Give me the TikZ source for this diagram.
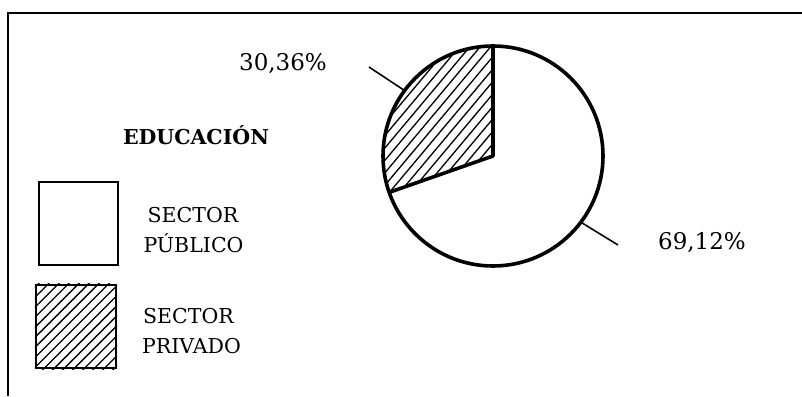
\documentclass[tikz,border=0pt]{standalone}
\usepackage{fontspec}
\setmainfont{DejaVu Serif}
\begin{document}
\tikzset{
  frame/.style={line width=2.6pt},
  pie/.style={line width=3.6pt, line join=round},
  hatch/.style={line width=1.3pt},
  leader/.style={line width=1.6pt},
  legendbox/.style={draw, line width=2.2pt, inner sep=0pt},
  lbl/.style={anchor=base, inner sep=0pt, font=\fontsize{20.5}{25}\selectfont},
  pct/.style={anchor=base, inner sep=0pt, font=\fontsize{23}{28}\selectfont},
  ttl/.style={anchor=base, inner sep=0pt, font=\bfseries\fontsize{20.5}{24}\selectfont},
}
\begin{tikzpicture}[x=1pt,y=1pt]
\useasboundingbox (0,0) rectangle (802,396);
% frame
\coordinate (fTL) at (8,383);
\coordinate (fTR) at (802,383);
\coordinate (fBL) at (8,0);
\draw[frame] (fBL) -- (fTL) -- (fTR);

% pie chart
\coordinate (c) at (493,240);
\def\R{110}
\begin{scope}
  \clip (c) -- ++(90:\R) arc[start angle=90,end angle=199.3,radius=\R] -- cycle;
  \begin{scope}[shift={(c)},rotate=50]
    \foreach \i in {-20,...,20} \draw[hatch] (-150,\i*8) -- (150,\i*8);
  \end{scope}
\end{scope}
\draw[pie] (c) circle[radius=\R];
\draw[pie] (c) ++(90:\R) -- (c) -- ++(199.3:\R);

% leader lines
\path (c) ++(143.5:\R) coordinate (l1a);
\coordinate (l1b) at (369,329);
\path (c) ++(-37:\R) coordinate (l2a);
\coordinate (l2b) at (618,151);
\draw[leader] (l1a) -- (l1b);
\draw[leader] (l2a) -- (l2b);

% labels
\node[pct] (p30) at (283,325) {30,36\%};
\node[pct] (p69) at (702,146) {69,12\%};
\node[ttl] (title) at (196,251) {EDUCACIÓN};

% legend
\node[legendbox, minimum width=79pt, minimum height=83pt] (boxpub) at (78.5,172.5) {};
\node[legendbox, minimum width=80pt, minimum height=83pt] (boxpriv) at (76,69.5) {};
\begin{scope}
  \clip (boxpriv.south west) rectangle (boxpriv.north east);
  \begin{scope}[shift={(boxpriv.center)},rotate=45]
    \foreach \i in {-12,...,12} \draw[hatch] (-100,\i*7.1) -- (100,\i*7.1);
  \end{scope}
\end{scope}
\node[legendbox, minimum width=80pt, minimum height=83pt] at (boxpriv.center) {};

\node[lbl] (pub1) at (193,173) {SECTOR};
\node[lbl] (pub2) at (193.5,143) {PÚBLICO};
\node[lbl] (priv1) at (188.5,73) {SECTOR};
\node[lbl] (priv2) at (191.5,43) {PRIVADO};
\end{tikzpicture}
\end{document}
